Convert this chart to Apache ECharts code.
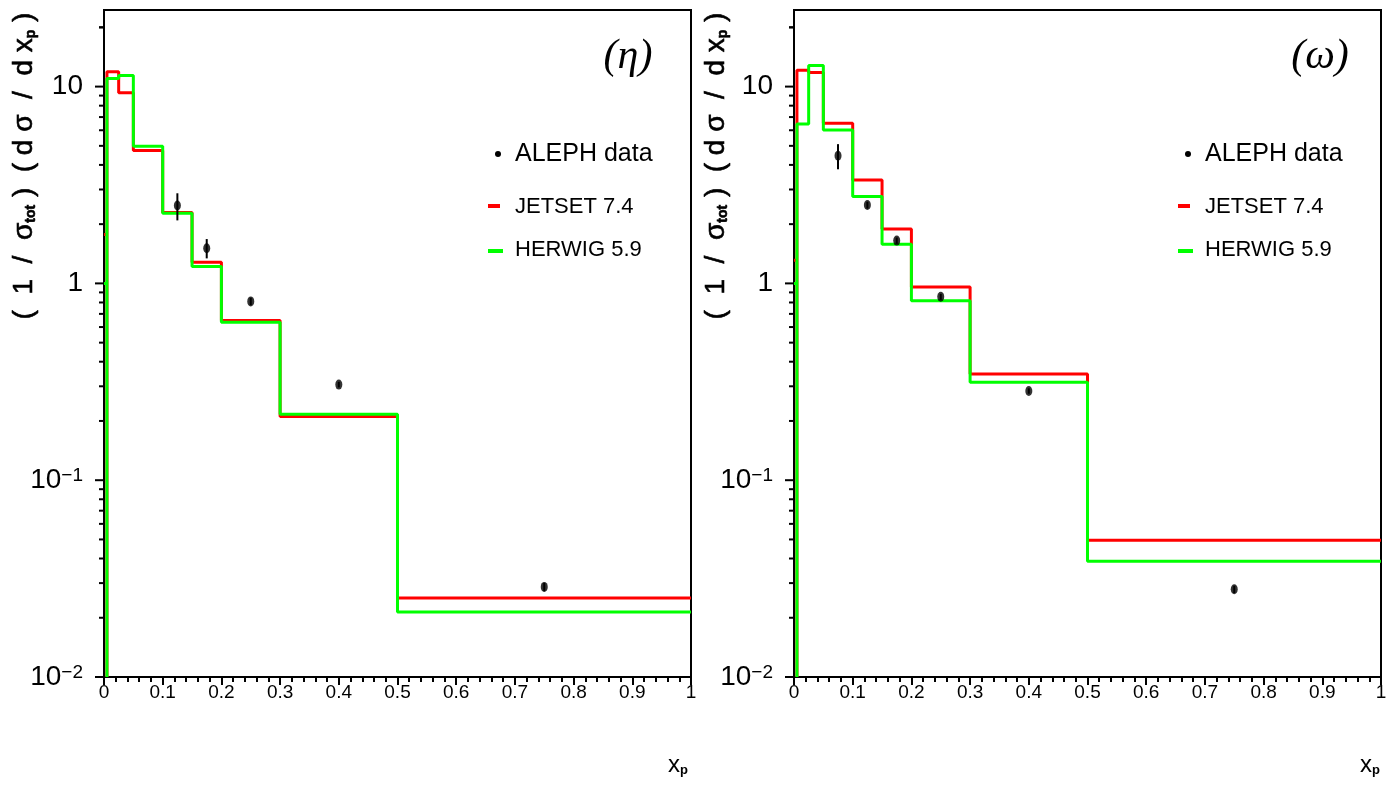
<!DOCTYPE html>
<html><head><meta charset="utf-8">
<script src="https://cdn.jsdelivr.net/npm/echarts@6/dist/echarts.min.js"></script>
<style>html,body{margin:0;padding:0;background:#fff}#c{width:1395px;height:787px}</style>
</head><body><div id="c"></div><script>
// ---- data ----
const binEdges = [0, 0.005, 0.025, 0.05, 0.1, 0.15, 0.2, 0.3, 0.5, 1];
const etaJetset   = [1.77, 11.9, 9.3, 4.73, 2.29, 1.28, 0.647, 0.211, 0.0252];
const etaHerwig   = [1.0, 11.0, 11.4, 4.98, 2.27, 1.22, 0.634, 0.216, 0.0214];
const omegaJetset = [1.31, 12.1, 11.8, 6.51, 3.35, 1.89, 0.96, 0.346, 0.0496];
const omegaHerwig = [1.0, 6.45, 12.8, 6.02, 2.76, 1.58, 0.816, 0.315, 0.0387];

const etaDataX  = [0.125, 0.175, 0.25, 0.4, 0.75];
const etaDataY  = [2.49, 1.51, 0.81, 0.306, 0.0287];
const etaErrLo  = [2.09, 1.34, 0.775, 0.296, 0.0273];
const etaErrHi  = [2.87, 1.68, 0.845, 0.316, 0.0301];

const omegaDataX = [0.075, 0.125, 0.175, 0.25, 0.4, 0.75];
const omegaDataY = [4.45, 2.50, 1.65, 0.855, 0.284, 0.0279];
const omegaErrLo = [3.8, 2.40, 1.59, 0.825, 0.275, 0.0267];
const omegaErrHi = [5.1, 2.60, 1.71, 0.885, 0.293, 0.0291];

const yMajorValues = [0.01, 0.1, 1, 10];
const yMajorLabels = ['10{s|−2}', '10{s|−1}', '1', '10'];
const Y_MIN = 0.01, Y_MAX = 24.5;
const legendNames = ['ALEPH data', 'JETSET 7.4', 'HERWIG 5.9'];
const panelTags = ['η', 'ω'];

// ---- helpers ----
function histPoints(vals) {
  const p = [[binEdges[0], vals[0]], [binEdges[1], vals[0]], [binEdges[1], Y_MIN]];
  for (let i = 1; i < vals.length; i++) {
    p.push([binEdges[i], vals[i]]);
    p.push([binEdges[i + 1], vals[i]]);
  }
  return p;
}
function yTickData() {
  const d = [];
  for (let e = -2; e <= 1; e++) {
    for (let m = 1; m <= 9; m++) {
      const v = m * Math.pow(10, e);
      d.push([0, v, m === 1 ? 1 : 0]);
    }
  }
  d.push([0, 20, 0]);
  return d;
}
const FONT = '"Liberation Sans", Arial, sans-serif';

const grids = [
  { left: 104, right: 704, top: 10, bottom: 110 },
  { left: 794, right: 14, top: 10, bottom: 110 }
];

const xAxes = grids.map((g, i) => ({
  gridIndex: i, type: 'value', min: 0, max: 1, interval: 0.1,
  axisLine: { show: true, lineStyle: { color: '#000', width: 2 } },
  axisTick: { show: true, length: 8, lineStyle: { color: '#000', width: 2 } },
  minorTick: { show: true, splitNumber: 5, length: 5, lineStyle: { color: '#000', width: 2 } },
  splitLine: { show: false },
  axisLabel: { color: '#000', fontFamily: FONT, fontSize: 19, margin: 6,
    formatter: v => (Math.abs(v) < 1e-9 ? '0' : Math.abs(v - 1) < 1e-9 ? '1' : String(+v.toFixed(1))) }
}));
const yAxes = grids.map((g, i) => ({
  gridIndex: i, type: 'log', logBase: 10, min: Y_MIN, max: Y_MAX,
  axisLine: { show: true, lineStyle: { color: '#000', width: 2 } },
  axisTick: { show: false }, minorTick: { show: false }, splitLine: { show: false },
  axisLabel: {
    color: '#000', fontFamily: FONT, fontSize: 28, margin: 21,
    formatter: v => {
      for (let k = 0; k < yMajorValues.length; k++) {
        if (Math.abs(Math.log10(v) - Math.log10(yMajorValues[k])) < 1e-6) return yMajorLabels[k];
      }
      return '';
    },
    rich: { s: { fontSize: 19, fontFamily: FONT, color: '#000', verticalAlign: 'top', lineHeight: 14 } }
  }
}));

function panelSeries(i, jet, her, dx, dy, lo, hi) {
  return [
    { type: 'line', xAxisIndex: i, yAxisIndex: i, data: histPoints(jet), symbol: 'none',
      lineStyle: { color: '#ff0000', width: 3 }, z: 3, animation: false },
    { type: 'line', xAxisIndex: i, yAxisIndex: i, data: histPoints(her), symbol: 'none',
      lineStyle: { color: '#00ff00', width: 3 }, z: 4, animation: false },
    { type: 'custom', xAxisIndex: i, yAxisIndex: i, z: 6, animation: false,
      data: dx.map((x, k) => [x, lo[k], hi[k]]),
      renderItem: (params, api) => {
        const a = api.coord([api.value(0), api.value(1)]);
        const b = api.coord([api.value(0), api.value(2)]);
        return { type: 'line', shape: { x1: a[0], y1: a[1], x2: b[0], y2: b[1] },
          style: { stroke: '#000', lineWidth: 2 } };
      } },
    { type: 'scatter', xAxisIndex: i, yAxisIndex: i, z: 7, animation: false,
      data: dx.map((x, k) => [x, dy[k]]), symbol: 'circle', symbolSize: [7, 10],
      itemStyle: { color: '#000' } },
    { type: 'custom', xAxisIndex: i, yAxisIndex: i, z: 8, animation: false, clip: false,
      data: yTickData(),
      renderItem: (params, api) => {
        const p = api.coord([0, api.value(1)]);
        const len = api.value(2) ? 9 : 5;
        return { type: 'line', shape: { x1: p[0] - len, y1: p[1], x2: p[0], y2: p[1] },
          style: { stroke: '#000', lineWidth: 2 } };
      } }
  ];
}

const series = [].concat(
  panelSeries(0, etaJetset, etaHerwig, etaDataX, etaDataY, etaErrLo, etaErrHi),
  panelSeries(1, omegaJetset, omegaHerwig, omegaDataX, omegaDataY, omegaErrLo, omegaErrHi)
);

function legendGraphics(x0) {
  return [
    { type: 'circle', shape: { cx: x0 + 10, cy: 154, r: 3 }, style: { fill: '#000' } },
    { type: 'text', x: x0 + 27, y: 154, style: { text: legendNames[0], font: '25px ' + FONT, fill: '#000', verticalAlign: 'middle' } },
    { type: 'rect', shape: { x: x0, y: 204, width: 12, height: 4 }, style: { fill: '#ff0000' } },
    { type: 'text', x: x0 + 27, y: 207, style: { text: legendNames[1], font: '22px ' + FONT, fill: '#000', verticalAlign: 'middle' } },
    { type: 'rect', shape: { x: x0, y: 249, width: 15, height: 4 }, style: { fill: '#00ff00' } },
    { type: 'text', x: x0 + 27, y: 250, style: { text: legendNames[2], font: '22px ' + FONT, fill: '#000', verticalAlign: 'middle' } }
  ];
}
function yTitle(x) {
  return { type: 'text', x: x, y: 166, rotation: Math.PI / 2,
    style: { text: '(  1  /  σ{b|tot} )  ( d σ  /  d x{b|p} )', font: '28px ' + FONT, fill: '#000',
      align: 'center', verticalAlign: 'middle', stroke: '#000', lineWidth: 0.6,
      rich: { b: { fontSize: 14, fontWeight: 'bold', fontFamily: FONT, verticalAlign: 'bottom', lineHeight: 16 } } } };
}
function xTitle(x) {
  return { type: 'text', x: x, y: 765,
    style: { text: 'x{b|p}', font: '24px ' + FONT, fill: '#000', align: 'left', verticalAlign: 'middle',
      rich: { b: { fontSize: 13, fontWeight: 'bold', fontFamily: FONT, verticalAlign: 'bottom', lineHeight: 14 } } } };
}
function tag(x, t) {
  return { type: 'text', x: x, y: 57, style: { text: '(' + t + ')', font: 'italic 42px "Liberation Serif", serif',
    fill: '#000', align: 'center', verticalAlign: 'middle' } };
}

const graphic = [].concat(
  legendGraphics(488), legendGraphics(1178),
  [yTitle(24), yTitle(716), xTitle(668), xTitle(1360), tag(628, panelTags[0]), tag(1320, panelTags[1])]
);

const chart = echarts.init(document.getElementById('c'), null, { renderer: 'canvas' });
chart.setOption({
  backgroundColor: '#fff',
  animation: false,
  grid: grids.map(g => Object.assign({ show: true, borderColor: '#000', borderWidth: 2, backgroundColor: 'transparent' }, g)),
  xAxis: xAxes, yAxis: yAxes, series: series, graphic: graphic
});
</script></body></html>
